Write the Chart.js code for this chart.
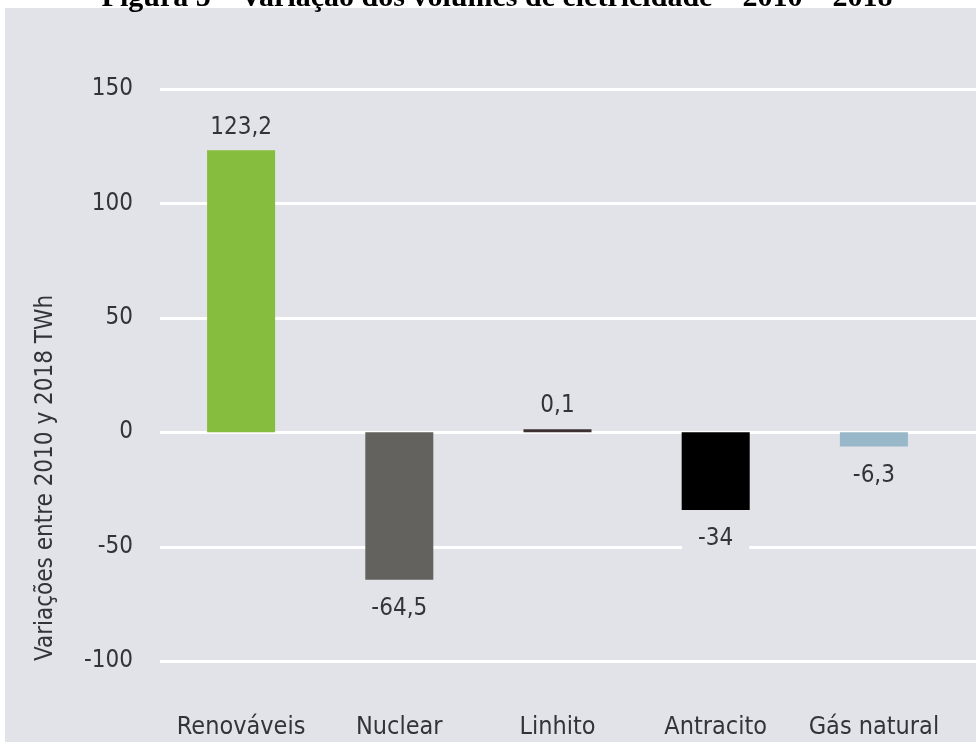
<!DOCTYPE html>
<html>
<head>
<meta charset="utf-8">
<script src="https://cdn.jsdelivr.net/npm/chart.js@4"></script>
<style>
  body { margin: 0; background: #fff; width: 976px; height: 742px; overflow: hidden; position: relative; }
  #title {
    position: absolute; top: -19px; left: 0; width: 976px; padding-left: 18px; box-sizing: border-box;
    text-align: center; font: bold 30px/30px "Liberation Serif", "Times New Roman", serif;
    color: #000; z-index: 2; white-space: nowrap;
  }
  #wrap { position: absolute; left: 5px; top: 8px; width: 971px; height: 734px; background: #e2e3e8; }
</style>
</head>
<body>
<div id="title">Figura 5 – Variação dos volumes de eletricidade – 2010 – 2018</div>
<div id="wrap"><canvas id="chart"></canvas></div>
<script>
const categories = ["Renováveis", "Nuclear", "Linhito", "Antracito", "Gás natural"];
const values = [123.2, -64.5, 0.1, -34, -6.3];
const barColors = ["#87bd3f", "#64625f", "#3d3232", "#000000", "#98b7c9"];
const yTicks = [-100, -50, 0, 50, 100, 150];
const yTitle = "Variações entre 2010 y 2018 TWh";

const FONT = "'Liberation Sans Narrow', 'DejaVu Sans Condensed', sans-serif";
const BG = "#e2e3e8";
const TEXT = "#33343a";

// white grid lines, running past the right end of the category axis
const gridLines = {
  id: "gridLines",
  beforeDatasetsDraw(chart) {
    const { ctx, chartArea, scales } = chart;
    ctx.save();
    ctx.strokeStyle = "#ffffff";
    ctx.lineWidth = 3;
    scales.y.ticks.forEach((t) => {
      let py = Math.round(scales.y.getPixelForValue(t.value)) + 0.5;
      ctx.beginPath();
      ctx.moveTo(chartArea.left - 2, py);
      ctx.lineTo(chart.width, py);
      ctx.stroke();
    });
    ctx.restore();
  },
};

// value labels above / below each bar
const valueLabels = {
  id: "valueLabels",
  afterDatasetsDraw(chart) {
    const ctx = chart.ctx;
    const meta = chart.getDatasetMeta(0);
    ctx.save();
    ctx.font = "24px " + FONT;
    ctx.textAlign = "center";
    ctx.textBaseline = "middle";
    meta.data.forEach((bar, i) => {
      let v = values[i];
      let text = String(v).replace(".", ",");
      let y = v >= 0 ? bar.y - 23 : bar.y + 29;
      let w = ctx.measureText(text).width + 32;
      ctx.fillStyle = BG;
      ctx.fillRect(bar.x - w / 2, y - 12, w, 24);
      ctx.fillStyle = TEXT;
      ctx.fillText(text, bar.x, y);
    });
    ctx.restore();
  },
};

new Chart(document.getElementById("chart"), {
  type: "bar",
  data: {
    labels: categories,
    datasets: [
      {
        data: values,
        backgroundColor: barColors,
        borderWidth: 0,
        barPercentage: 1,
        categoryPercentage: 0.43,
        minBarLength: 3,
      },
    ],
  },
  options: {
    responsive: true,
    maintainAspectRatio: false,
    animation: false,
    layout: { padding: { top: 81, right: 23, left: 0, bottom: 0 } },
    plugins: {
      legend: { display: false },
      tooltip: { enabled: false },
    },
    scales: {
      x: {
        grid: { display: false },
        border: { display: false },
        ticks: { color: TEXT, font: { family: FONT, size: 25 }, padding: 43, maxRotation: 0 },
        afterFit: (s) => {
          s.height = 81;
          s.paddingLeft = 0;
          s.paddingRight = 0;
        },
      },
      y: {
        min: -100,
        max: 150,
        grid: { display: false },
        border: { display: false },
        afterBuildTicks: (s) => { s.ticks = yTicks.map((v) => ({ value: v })); },
        ticks: { color: TEXT, font: { family: FONT, size: 24 }, padding: 21 },
        title: {
          display: true,
          text: yTitle,
          align: "start",
          color: TEXT,
          font: { family: FONT, size: 24 },
          padding: { top: 26, bottom: 0 },
        },
        afterFit: (s) => { s.width = 157; },
      },
    },
  },
  plugins: [gridLines, valueLabels],
});
</script>
</body>
</html>
